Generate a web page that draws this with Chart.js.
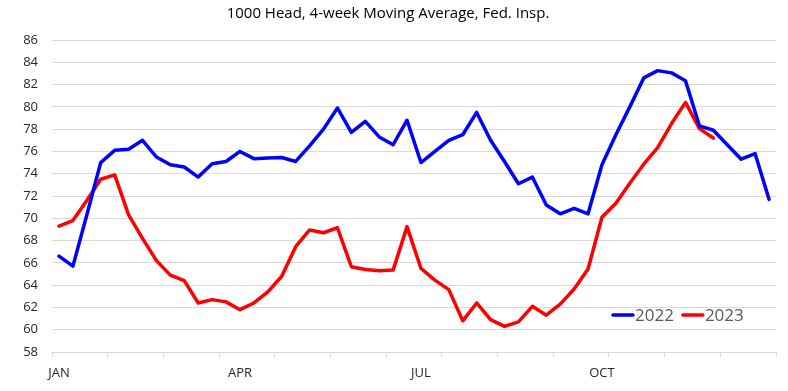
<!DOCTYPE html>
<html>
<head>
<meta charset="utf-8">
<script src="https://cdn.jsdelivr.net/npm/chart.js@4.4.0/dist/chart.umd.min.js"></script>
<style>
  html, body { margin: 0; padding: 0; background: #ffffff; }
  #wrap { width: 788px; height: 391px; }
</style>
</head>
<body>
<div id="wrap"><canvas id="c" width="788" height="391"></canvas></div>
<script>
// ---- data ----
const categories = [
  'Wk1','Wk2','Wk3','Wk4','Wk5','Wk6','Wk7','Wk8','Wk9','Wk10','Wk11','Wk12','Wk13',
  'Wk14','Wk15','Wk16','Wk17','Wk18','Wk19','Wk20','Wk21','Wk22','Wk23','Wk24','Wk25','Wk26',
  'Wk27','Wk28','Wk29','Wk30','Wk31','Wk32','Wk33','Wk34','Wk35','Wk36','Wk37','Wk38','Wk39',
  'Wk40','Wk41','Wk42','Wk43','Wk44','Wk45','Wk46','Wk47','Wk48','Wk49','Wk50','Wk51','Wk52'
];
const tickLabels = ['JAN', 'APR', 'JUL', 'OCT'];
const tickLabelWeeks = [0, 13, 26, 39];

const values2022 = [
  66.6, 65.7, 70.3, 75.0, 76.1, 76.2, 77.0, 75.5, 74.8, 74.6, 73.7, 74.9, 75.1,
  76.0, 75.35, 75.4, 75.45, 75.1, 76.5, 78.0, 79.9, 77.7, 78.7, 77.3, 76.6, 78.8,
  75.0, 76.0, 77.0, 77.5, 79.5, 77.0, 75.1, 73.1, 73.7, 71.2, 70.4, 70.9, 70.4,
  74.8, 77.5, 80.0, 82.6, 83.25, 83.05, 82.35, 78.3, 77.9, 76.6, 75.3, 75.8, 71.7
];
const values2023 = [
  69.3, 69.8, 71.6, 73.5, 73.9, 70.3, 68.2, 66.2, 64.9, 64.4, 62.4, 62.7, 62.5,
  61.8, 62.4, 63.4, 64.8, 67.45, 68.95, 68.7, 69.15, 65.65, 65.4, 65.3, 65.35, 69.25,
  65.5, 64.45, 63.6, 60.8, 62.4, 60.9, 60.3, 60.7, 62.1, 61.3, 62.3, 63.65, 65.45,
  70.1, 71.35, 73.15, 74.85, 76.35, 78.5, 80.4, 78.05, 77.2
];
const seriesNames = ['2022', '2023'];
const seriesColors = ['#0000FF', '#FF0000'];
const yMin = 58, yMax = 86, yStep = 2;
const titleText = '1000 Head, 4-week Moving Average, Fed. Insp.';

// ---- chart ----
const FONT = '"Open Sans", "Liberation Sans", sans-serif';

const insideLegend = {
  id: 'insideLegend',
  afterDraw(chart) {
    const { ctx, chartArea } = chart;
    ctx.save();
    ctx.font = '17px ' + FONT;
    ctx.textBaseline = 'middle';
    ctx.textAlign = 'left';
    let x = chartArea.right - 163;
    const y = chartArea.bottom - 37;
    chart.data.datasets.forEach(ds => {
      ctx.strokeStyle = ds.borderColor;
      ctx.lineWidth = 3.5;
      ctx.lineCap = 'round';
      ctx.beginPath();
      ctx.moveTo(x, y);
      ctx.lineTo(x + 20, y);
      ctx.stroke();
      ctx.fillStyle = '#595959';
      ctx.fillText(ds.label, x + 22, y + 1);
      x += 22 + ctx.measureText(ds.label).width + 9;
    });
    ctx.restore();
  }
};

new Chart(document.getElementById('c'), {
  type: 'line',
  data: {
    labels: categories,
    datasets: [
      {
        label: seriesNames[0], data: values2022,
        borderColor: seriesColors[0], backgroundColor: seriesColors[0],
        borderWidth: 3.5, pointRadius: 0, tension: 0,
        borderJoinStyle: 'round', borderCapStyle: 'round'
      },
      {
        label: seriesNames[1], data: values2023,
        borderColor: seriesColors[1], backgroundColor: seriesColors[1],
        borderWidth: 3.5, pointRadius: 0, tension: 0,
        borderJoinStyle: 'round', borderCapStyle: 'round'
      }
    ]
  },
  options: {
    responsive: false,
    animation: false,
    devicePixelRatio: 1,
    layout: { padding: { left: 0, right: 12, top: 0, bottom: 0 } },
    plugins: {
      legend: { display: false },
      tooltip: { enabled: false },
      title: {
        display: true,
        text: titleText,
        color: '#000000',
        font: { family: FONT, size: 15, weight: 'normal' },
        padding: { top: 5, bottom: 17 }
      }
    },
    scales: {
      x: {
        type: 'category',
        offset: true,
        afterFit: s => { s.height = 39; },
        border: { display: true, color: '#d9d9d9', width: 1 },
        grid: {
          offset: true,
          drawOnChartArea: false,
          drawTicks: true,
          tickLength: 5,
          color: ctx => (ctx.index === undefined || ctx.index % 4 === 0) ? '#d9d9d9' : 'rgba(0,0,0,0)'
        },
        ticks: {
          autoSkip: false,
          maxRotation: 0,
          minRotation: 0,
          padding: 8,
          color: '#262626',
          font: { family: FONT, size: 13 },
          callback: (val, idx) => {
            const k = tickLabelWeeks.indexOf(idx);
            return k >= 0 ? tickLabels[k] : '';
          }
        }
      },
      y: {
        min: yMin, max: yMax,
        afterFit: s => { s.width = 52; },
        border: { display: false },
        grid: { color: '#d9d9d9', drawTicks: false, lineWidth: 1 },
        ticks: {
          stepSize: yStep,
          padding: 14,
          color: '#262626',
          font: { family: FONT, size: 13 }
        }
      }
    }
  },
  plugins: [insideLegend]
});
</script>
</body>
</html>
